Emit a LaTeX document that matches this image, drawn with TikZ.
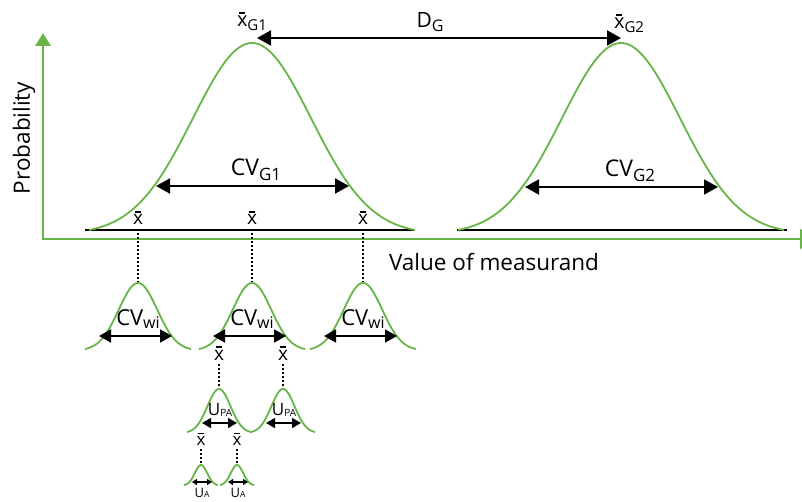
\documentclass[tikz,border=0pt]{standalone}
\usepackage{fontspec}
\setmainfont{Open Sans}
\usetikzlibrary{arrows.meta}
\definecolor{cgreen}{RGB}{104,180,70}
\newcommand{\xb}{\leavevmode\ooalign{x\cr\hidewidth\raisebox{0.64em}{\rule{0.3em}{0.09em}}\hidewidth\cr}}
\newcommand{\fs}[1]{\fontsize{#1}{#1}\selectfont}
\newcommand{\sbs}[3]{\raisebox{-#1pt}{\fs{#2}#3}}
\tikzset{
  gcurve/.style={draw=cgreen, line width=1.8pt},
  axis/.style={draw=cgreen, line width=2.8pt},
  base/.style={draw=black, line width=2pt},
  dim/.style={draw=black, line width=2pt, {Triangle[length=14pt,width=15pt]}-{Triangle[length=14pt,width=15pt]}},
  dimm/.style={draw=black, line width=2pt, {Triangle[length=12pt,width=13pt]}-{Triangle[length=12pt,width=13pt]}},
  dims/.style={draw=black, line width=1.6pt, {Triangle[length=9pt,width=10pt]}-{Triangle[length=9pt,width=10pt]}},
  dimt/.style={draw=black, line width=1.3pt, {Triangle[length=5pt,width=6pt]}-{Triangle[length=5pt,width=6pt]}},
  vdots/.style={draw=black, line width=1.8pt, dash pattern=on 1.8pt off 2.2pt},
  lbl/.style={inner sep=0pt, anchor=base, text=black},
}
% Gaussian: center x, base y, half width, height
\newcommand{\mygauss}[4]{%
  \begin{scope}[shift={(#1,#2)}, xscale=#3, yscale=#4]
    \draw[gcurve] plot[domain=-1:1, samples=80, smooth] (\x, {-(exp(-3.8088*\x*\x)-0.02218)/0.97782});
  \end{scope}}
\begin{document}
\begin{tikzpicture}[x=1pt, y=-1pt]
\clip (0,0) rectangle (802,502);
% axes
\coordinate (ytop) at (43,33);
\coordinate (xend) at (813,239);
\draw[axis, -{Triangle[length=13pt,width=15pt]}] (43,240.4) -- (ytop);
\draw[axis, -{Triangle[length=13pt,width=20pt]}] (41.6,239) -- (xend);
% baselines
\coordinate (b1l) at (85,230); \coordinate (b1r) at (415,230);
\coordinate (b2l) at (457,230); \coordinate (b2r) at (787,230);
\draw[base] (b1l) -- (b1r);
\draw[base] (b2l) -- (b2r);
% big gaussians
\mygauss{252}{230}{163}{187}
\mygauss{621}{230}{163}{187}
% peaks
\coordinate (p1) at (257,38);
\coordinate (p2) at (621,38);
\draw[dim] (p1) -- (p2);
\node[lbl] (xg1) at (252,27) {\fs{20}\xb\sbs{4}{15}{G1}};
\node[lbl] (dg) at (430,28) {\fs{21}D\sbs{4}{16}{G}};
\node[lbl] (xg2) at (629,29) {\fs{20}\xb\sbs{4}{15}{G2}};
% CV_G
\coordinate (c1l) at (156,186); \coordinate (c1r) at (349,186);
\draw[dim] (c1l) -- (c1r);
\node[lbl] (cvg1) at (256,176) {\fs{23}CV\sbs{5}{17}{G1}};
\coordinate (c2l) at (525,187); \coordinate (c2r) at (718,187);
\draw[dim] (c2l) -- (c2r);
\node[lbl] (cvg2) at (630,177) {\fs{23}CV\sbs{5}{17}{G2}};
% axis labels
\node[lbl, anchor=center] (vm) at (494,262) {\fs{22.5}Value of measurand};
\node[lbl, anchor=center, rotate=90] (pr) at (24,138) {\fs{22.5}Probability};
% x bar labels on baseline
\foreach \n/\xx in {a/138,b/252,c/363}{
  \node[lbl] (xb\n) at (\xx,225) {\fs{19}\xb};
  \coordinate (d\n t) at (\xx,233);
  \coordinate (d\n b) at (\xx,283);
  \draw[vdots] (d\n t) -- (d\n b);
  \mygauss{\xx}{349}{53}{66}
  \coordinate (w\n l) at (\xx-39,336);
  \coordinate (w\n r) at (\xx+34,336);
  \draw[dimm] (w\n l) -- (w\n r);
  \node[lbl] (cvw\n) at (\xx,325) {\fs{22}CV\sbs{3}{16}{wi}};
}
% second level
\foreach \n/\xx in {a/219,b/283}{
  \node[lbl] (xp\n) at (\xx,360) {\fs{19}\xb};
  \coordinate (e\n t) at (\xx,364);
  \coordinate (e\n b) at (\xx,388);
  \draw[vdots] (e\n t) -- (e\n b);
  \mygauss{\xx}{432}{32}{43}
  \coordinate (u\n l) at (\xx-17,423);
  \coordinate (u\n r) at (\xx+18,423);
  \draw[dims] (u\n l) -- (u\n r);
  \node[lbl] (upa\n) at (\xx+1,415) {\fs{17}U\sbs{1}{10}{PA}};
}
% third level
\foreach \n/\xx in {a/201,b/237}{
  \node[lbl] (xq\n) at (\xx,445) {\fs{17}\xb};
  \coordinate (f\n t) at (\xx,449);
  \coordinate (f\n b) at (\xx,465);
  \draw[vdots] (f\n t) -- (f\n b);
  \mygauss{\xx}{485}{17}{20}
  \coordinate (v\n l) at (\xx-9,482);
  \coordinate (v\n r) at (\xx+11,482);
  \draw[dimt] (v\n l) -- (v\n r);
  \node[lbl] (ua\n) at (\xx+1,497.5) {\fs{13}U\sbs{0}{8.5}{A}};
}
\end{tikzpicture}
\end{document}
